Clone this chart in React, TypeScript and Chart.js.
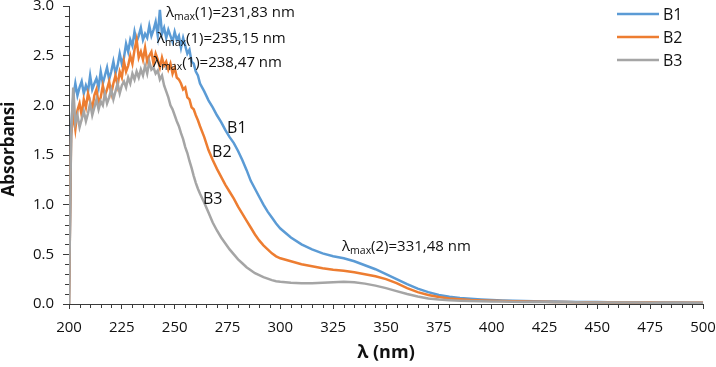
import { useEffect, useRef } from 'react';
import { Chart, registerables } from 'chart.js';

Chart.register(...registerables);

const FONT = "'Open Sans', sans-serif";
const AXIS_COLOR = '#3a3a3a';
const TEXT_COLOR = '#111';

// wavelengths (nm)
const wavelengths = [
  200, 201, 202, 203, 204, 205, 206, 207, 208, 209,
  210, 211, 212, 213, 214, 215, 216, 217, 218, 219,
  220, 221, 222, 223, 224, 225, 226, 227, 228, 229,
  230, 231, 232, 233, 234, 235, 236, 237, 238, 239,
  240, 241, 242, 243, 244, 245, 246, 247, 248, 249,
  250, 251, 252, 253, 254, 255, 256, 257, 258, 259,
  260, 261, 262,
  264, 266, 268, 270, 272, 274, 276, 278, 280, 282,
  284, 286, 288, 290, 292, 294, 296, 298, 300,
  305, 310, 315, 320, 325, 330, 335, 340, 345, 350,
  355, 360, 365, 370, 375, 380, 385, 390, 395, 400,
  405, 410, 415, 420, 425, 430, 435, 440, 445, 450,
  455, 460, 465, 470, 475, 480, 485, 490, 495, 500,
];

const b1 = [
  0.0, 1.78, 2.08, 2.22, 2.1, 2.18, 2.24, 2.12, 2.2, 2.14,
  2.3, 2.16, 2.22, 2.27, 2.18, 2.34, 2.22, 2.3, 2.38, 2.26,
  2.34, 2.44, 2.32, 2.4, 2.52, 2.42, 2.48, 2.62, 2.54, 2.66,
  2.6, 2.74, 2.64, 2.7, 2.78, 2.66, 2.72, 2.68, 2.8, 2.7,
  2.76, 2.84, 2.7, 2.96, 2.72, 2.78, 2.68, 2.76, 2.7, 2.64,
  2.74, 2.66, 2.7, 2.58, 2.68, 2.6, 2.52, 2.56, 2.44, 2.42,
  2.34, 2.3, 2.22,
  2.14, 2.05, 1.98, 1.9, 1.83, 1.75, 1.68, 1.62, 1.54, 1.45,
  1.35, 1.24, 1.16, 1.08, 1.0, 0.93, 0.87, 0.81, 0.76,
  0.67, 0.6, 0.55, 0.51, 0.48, 0.46, 0.43, 0.39, 0.35, 0.3,
  0.25, 0.2, 0.155, 0.12, 0.09, 0.072, 0.06, 0.052, 0.046, 0.04,
  0.036, 0.033, 0.03, 0.028, 0.026, 0.024, 0.022, 0.021, 0.02, 0.019,
  0.018, 0.017, 0.016, 0.016, 0.015, 0.015, 0.014, 0.014, 0.013, 0.013,
];

const b2 = [
  0.0, 1.7, 1.92, 1.76, 1.95, 2.02, 1.9, 2.06, 1.98, 2.12,
  2.04, 1.96, 2.1, 2.16, 2.02, 2.08, 2.2, 2.1, 2.16, 2.24,
  2.12, 2.22, 2.3, 2.2, 2.34, 2.28, 2.44, 2.34, 2.4, 2.5,
  2.42, 2.56, 2.66, 2.48, 2.54, 2.46, 2.58, 2.44, 2.5, 2.54,
  2.42, 2.52, 2.46, 2.38, 2.48, 2.4, 2.44, 2.36, 2.42, 2.32,
  2.38, 2.28, 2.26, 2.22, 2.16, 2.18, 2.08, 2.06, 1.98, 1.96,
  1.9, 1.85, 1.79,
  1.68, 1.55, 1.45, 1.36, 1.28, 1.2, 1.13, 1.06, 0.98, 0.91,
  0.84, 0.77, 0.7, 0.64, 0.59, 0.55, 0.51, 0.48, 0.46,
  0.43, 0.4, 0.38, 0.36, 0.345, 0.335, 0.32, 0.3, 0.28, 0.25,
  0.21, 0.16, 0.12, 0.09, 0.07, 0.055, 0.047, 0.04, 0.036, 0.032,
  0.029, 0.027, 0.025, 0.023, 0.022, 0.02, 0.019, 0.018, 0.017, 0.016,
  0.016, 0.015, 0.015, 0.014, 0.014, 0.013, 0.013, 0.012, 0.012, 0.012,
];

const b3 = [
  0.0, 1.68, 2.18, 1.82, 1.9, 1.78, 1.86, 1.94, 1.84, 1.92,
  2.02, 1.9, 1.98, 2.06, 1.96, 2.04, 2.0, 2.12, 2.02, 2.08,
  2.16, 2.06, 2.14, 2.22, 2.12, 2.2, 2.24, 2.18, 2.28, 2.22,
  2.32, 2.26, 2.34, 2.28, 2.36, 2.3, 2.4, 2.32, 2.44, 2.36,
  2.38, 2.32, 2.35, 2.26, 2.3, 2.2, 2.14, 2.08, 2.0, 1.96,
  1.9, 1.84, 1.79, 1.72, 1.66, 1.58, 1.52, 1.44, 1.37, 1.29,
  1.22, 1.16, 1.11,
  1.02, 0.92, 0.82, 0.74, 0.67, 0.61, 0.55, 0.5, 0.45, 0.41,
  0.37, 0.34, 0.31, 0.29, 0.27, 0.255, 0.24, 0.23, 0.225,
  0.215, 0.21, 0.21, 0.215, 0.22, 0.225, 0.22, 0.205, 0.185, 0.16,
  0.13, 0.1, 0.075, 0.055, 0.045, 0.038, 0.033, 0.03, 0.028, 0.026,
  0.024, 0.022, 0.021, 0.02, 0.019, 0.018, 0.018, 0.017, 0.016, 0.016,
  0.015, 0.015, 0.014, 0.014, 0.013, 0.013, 0.012, 0.012, 0.012, 0.011,
];

const seriesLabels = ['B1', 'B2', 'B3'];
const seriesColors = ['#5B9BD5', '#ED7D31', '#A5A5A5'];

const xTitle = 'λ (nm)';
const yTitle = 'Absorbansi';

// annotations anchored in data coordinates (left edge / vertical middle)
const peakNotes = [
  { sub: 'max', rest: '(1)=231,83 nm', x: 245.9, y: 2.93 },
  { sub: 'max', rest: '(1)=235,15 nm', x: 241.6, y: 2.67 },
  { sub: 'max', rest: '(1)=238,47 nm', x: 239.8, y: 2.43 },
  { sub: 'max', rest: '(2)=331,48 nm', x: 329.2, y: 0.574 },
];
const curveNotes = [
  { text: 'B1', x: 274.8, y: 1.77 },
  { text: 'B2', x: 267.7, y: 1.53 },
  { text: 'B3', x: 263.4, y: 1.05 },
];

const decorPlugin = {
  id: 'decor',
  afterDraw(chart: any) {
    const { ctx, chartArea } = chart;
    const xs = chart.scales.x;
    const ys = chart.scales.y;
    ctx.save();
    // minor ticks
    ctx.strokeStyle = AXIS_COLOR;
    ctx.lineWidth = 1;
    ctx.beginPath();
    for (let v = 205; v < 500; v += 5) {
      if (v % 25 === 0) continue;
      const px = Math.round(xs.getPixelForValue(v)) + 0.5;
      ctx.moveTo(px, chartArea.bottom);
      ctx.lineTo(px, chartArea.bottom + 4);
    }
    for (let k = 1; k < 30; k++) {
      if (k % 5 === 0) continue;
      const py = Math.round(ys.getPixelForValue(k / 10)) + 0.5;
      ctx.moveTo(chartArea.left - 4, py);
      ctx.lineTo(chartArea.left, py);
    }
    ctx.stroke();

    // annotations
    ctx.fillStyle = TEXT_COLOR;
    ctx.textAlign = 'left';
    ctx.textBaseline = 'middle';
    for (const n of peakNotes) {
      const px = xs.getPixelForValue(n.x);
      const py = ys.getPixelForValue(n.y);
      ctx.font = `15px ${FONT}`;
      ctx.fillText('λ', px, py);
      const w1 = ctx.measureText('λ').width;
      ctx.font = `10.5px ${FONT}`;
      ctx.fillText(n.sub, px + w1, py + 4);
      const w2 = ctx.measureText(n.sub).width;
      ctx.font = `15px ${FONT}`;
      ctx.fillText(n.rest, px + w1 + w2, py);
    }
    ctx.font = `16px ${FONT}`;
    for (const n of curveNotes) {
      ctx.fillText(n.text, xs.getPixelForValue(n.x), ys.getPixelForValue(n.y));
    }

    // legend
    const ds = chart.data.datasets;
    ds.forEach((d: any, i: number) => {
      const ly = 14 + i * 23;
      ctx.strokeStyle = d.borderColor;
      ctx.lineWidth = 2.5;
      ctx.beginPath();
      ctx.moveTo(617, ly);
      ctx.lineTo(659, ly);
      ctx.stroke();
      ctx.fillStyle = TEXT_COLOR;
      ctx.font = `16px ${FONT}`;
      ctx.fillText(d.label, 663, ly + 1);
    });

    // axis titles
    ctx.fillStyle = TEXT_COLOR;
    ctx.textAlign = 'center';
    ctx.font = `bold 17px ${FONT}`;
    ctx.save();
    ctx.translate(9, (chartArea.top + chartArea.bottom) / 2 - 6);
    ctx.rotate(-Math.PI / 2);
    ctx.fillText(yTitle, 0, 0);
    ctx.restore();
    ctx.font = `bold 18px ${FONT}`;
    ctx.fillText(xTitle, (chartArea.left + chartArea.right) / 2, 353);
    ctx.restore();
  },
};

export default function App() {
  const ref = useRef<HTMLCanvasElement | null>(null);
  useEffect(() => {
    if (!ref.current) return;
    const series = [b1, b2, b3];
    const chart = new Chart(ref.current, {
      type: 'line',
      data: {
        datasets: series.map((vals, i) => ({
          label: seriesLabels[i],
          data: vals.map((v, j) => ({ x: wavelengths[j], y: v })),
          borderColor: seriesColors[i],
          backgroundColor: seriesColors[i],
          borderWidth: 2.5,
          pointRadius: 0,
          tension: 0,
          fill: false,
          order: 3 - i,
        })),
      },
      options: {
        animation: false,
        responsive: false,
        events: [],
        layout: { padding: { top: 6, right: 13, left: 0, bottom: 0 } },
        plugins: { legend: { display: false }, tooltip: { enabled: false } },
        scales: {
          x: {
            type: 'linear',
            min: 200,
            max: 500,
            ticks: {
              stepSize: 25,
              color: TEXT_COLOR,
              font: { family: FONT, size: 15 },
              padding: 10,
              maxRotation: 0,
            },
            grid: { drawOnChartArea: false, drawTicks: true, tickLength: 5, color: AXIS_COLOR },
            border: { color: AXIS_COLOR, width: 1 },
            afterFit(scale: any) {
              scale.height = 63;
              scale.paddingLeft = 0;
              scale.paddingRight = 0;
            },
          },
          y: {
            type: 'linear',
            min: 0,
            max: 3,
            ticks: {
              stepSize: 0.5,
              color: TEXT_COLOR,
              font: { family: FONT, size: 15 },
              padding: 9,
              callback: (v: any) => Number(v).toFixed(1),
            },
            grid: { drawOnChartArea: false, drawTicks: true, tickLength: 6, color: AXIS_COLOR },
            border: { color: AXIS_COLOR, width: 1 },
            afterFit(scale: any) {
              scale.width = 69;
              scale.paddingTop = 0;
              scale.paddingBottom = 0;
            },
          },
        },
      },
      plugins: [decorPlugin],
    });
    return () => chart.destroy();
  }, []);
  return (
    <div style={{ position: 'absolute', left: 0, top: 0, width: 716, height: 367, background: '#fff' }}>
      <canvas ref={ref} width={716} height={367} />
    </div>
  );
}
